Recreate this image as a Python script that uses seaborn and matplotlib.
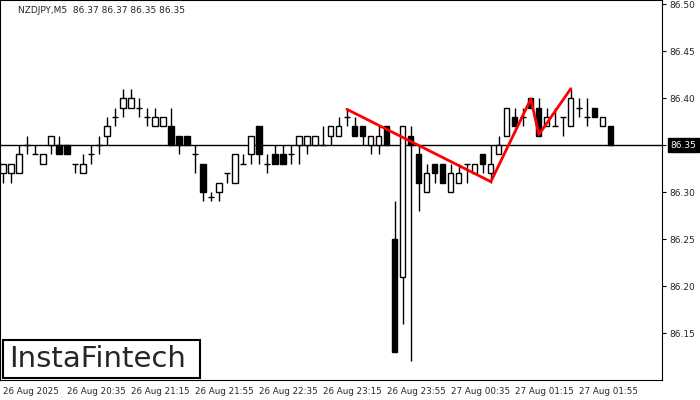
import matplotlib
matplotlib.use("Agg")
import matplotlib.pyplot as plt
from matplotlib.patches import Rectangle
import seaborn as sns
import numpy as np
import pandas as pd

opens = [86.32,86.32,86.32,86.35,86.34,86.33,86.35,86.35,86.35,86.33,86.32,86.34,86.35,86.36,86.38,86.389,86.389,86.389,86.38,86.37,
         86.37,86.37,86.36,86.36,86.34,86.33,86.295,86.30,86.32,86.31,86.33,86.34,86.37,86.33,86.34,86.34,86.34,86.35,86.35,86.35,
         86.35,86.36,86.36,86.38,86.37,86.37,86.35,86.35,86.37,86.25,86.21,86.36,86.34,86.30,86.33,86.33,86.30,86.31,86.33,86.32,
         86.34,86.32,86.34,86.36,86.38,86.38,86.40,86.389,86.37,86.37,86.38,86.37,86.389,86.38,86.389,86.37,86.37]
closes = [86.33,86.33,86.34,86.35,86.34,86.34,86.36,86.34,86.34,86.33,86.33,86.34,86.35,86.37,86.38,86.40,86.40,86.389,86.38,86.38,
          86.38,86.35,86.35,86.35,86.34,86.30,86.295,86.31,86.32,86.34,86.33,86.36,86.34,86.33,86.33,86.33,86.34,86.36,86.36,86.36,
          86.35,86.37,86.37,86.38,86.36,86.36,86.36,86.36,86.35,86.13,86.37,86.35,86.31,86.32,86.32,86.31,86.32,86.32,86.33,86.33,
          86.33,86.33,86.35,86.389,86.37,86.38,86.389,86.36,86.38,86.37,86.38,86.40,86.389,86.38,86.38,86.38,86.35]
highs = [86.33,86.33,86.35,86.36,86.35,86.34,86.36,86.36,86.35,86.33,86.34,86.35,86.36,86.38,86.389,86.41,86.41,86.40,86.389,86.389,
         86.38,86.389,86.36,86.36,86.35,86.33,86.30,86.31,86.32,86.34,86.34,86.36,86.37,86.34,86.35,86.35,86.35,86.36,86.36,86.36,
         86.37,86.37,86.38,86.389,86.38,86.37,86.36,86.37,86.37,86.29,86.37,86.37,86.35,86.33,86.33,86.33,86.33,86.33,86.33,86.33,
         86.34,86.35,86.36,86.389,86.389,86.389,86.40,86.40,86.389,86.389,86.38,86.41,86.40,86.40,86.389,86.38,86.37]
lows = [86.31,86.31,86.32,86.34,86.34,86.33,86.34,86.34,86.34,86.32,86.32,86.33,86.34,86.35,86.37,86.38,86.389,86.38,86.37,86.37,
        86.37,86.35,86.34,86.35,86.32,86.29,86.29,86.29,86.31,86.31,86.33,86.33,86.33,86.32,86.33,86.33,86.33,86.33,86.34,86.35,
        86.35,86.35,86.36,86.37,86.36,86.35,86.34,86.34,86.35,86.13,86.16,86.12,86.28,86.30,86.31,86.31,86.30,86.31,86.31,86.32,
        86.32,86.31,86.34,86.36,86.37,86.37,86.389,86.36,86.37,86.37,86.36,86.37,86.38,86.37,86.38,86.37,86.35]

pattern_idx = [43, 61, 66, 67, 71]
pattern_px = [86.388, 86.311, 86.399, 86.361, 86.41]

tick_idx = [0, 8, 16, 24, 32, 40, 48, 56, 64, 72]
tick_labels = ["26 Aug 2025", "26 Aug 20:35", "26 Aug 21:15", "26 Aug 21:55", "26 Aug 22:35",
               "26 Aug 23:15", "26 Aug 23:55", "27 Aug 00:35", "27 Aug 01:15", "27 Aug 01:55"]
yticks = [86.15, 86.20, 86.25, 86.30, 86.35, 86.40, 86.45, 86.50]
current = 86.35

sns.set_style("white")
plt.rcParams['font.family'] = ['DejaVu Sans']

fig = plt.figure(figsize=(7, 4), dpi=100)
ax = fig.add_axes([0.0, 0.05, 662/700, 0.95])

df = pd.DataFrame(dict(o=opens, c=closes, h=highs, l=lows))
df["i"] = np.arange(len(df))
for _, r in df.iterrows():
    ax.vlines(r.i, min(r.l, r.o, r.c), max(r.h, r.o, r.c), color="black", lw=1, zorder=2)
    lo, hi = min(r.o, r.c), max(r.o, r.c)
    fc = "white" if r.c > r.o else "black"
    if hi - lo < 0.001:
        ax.hlines(r.o, r.i - 0.35, r.i + 0.35, color="black", lw=1, zorder=3)
    else:
        ax.bar(r.i, hi - lo, bottom=lo, width=0.65, facecolor=fc, edgecolor="black", lw=1, zorder=3)

ax.axhline(current, color="black", lw=1, zorder=1)
sns.lineplot(x=pattern_idx, y=pattern_px, ax=ax, color="red", lw=2, zorder=4, sort=False)

ax.set_xlim(-0.375, 82.4)
ax.set_ylim(86.10, 86.5043)
ax.yaxis.tick_right()
ax.set_yticks(yticks)
ax.set_yticklabels(["" if abs(v - current) < 1e-9 else f"{v:.2f}" for v in yticks], fontsize=6.5)
ax.set_xticks(tick_idx)
ax.set_xticklabels(tick_labels, fontsize=6.3, ha="left")
ax.tick_params(axis="both", length=3, pad=2, color="black")
for s in ["top", "right", "left", "bottom"]:
    ax.spines[s].set_visible(True)
    ax.spines[s].set_color("black")
    ax.spines[s].set_linewidth(0.8)

ax.text(1.013, (current - 86.10) / (86.5043 - 86.10), f"{current:.2f}", transform=ax.transAxes,
        fontsize=6.5, color="white", va="center", ha="left",
        bbox=dict(boxstyle="square,pad=0.3", fc="black", ec="black"))
ax.text(0.027, 0.985, "NZDJPY,M5  86.37 86.37 86.35 86.35", transform=ax.transAxes,
        fontsize=6.5, va="top", ha="left")
fig.patches.append(Rectangle((3/700, 1 - 378/400), 197/700, 38/400, transform=fig.transFigure,
                             fc="white", ec="black", lw=1.5, zorder=10))
fig.text(9/700, 1 - 359/400, "InstaFintech", fontsize=21, fontweight="medium",
         va="center", ha="left", zorder=11)

fig.savefig("out.png", dpi=100)
